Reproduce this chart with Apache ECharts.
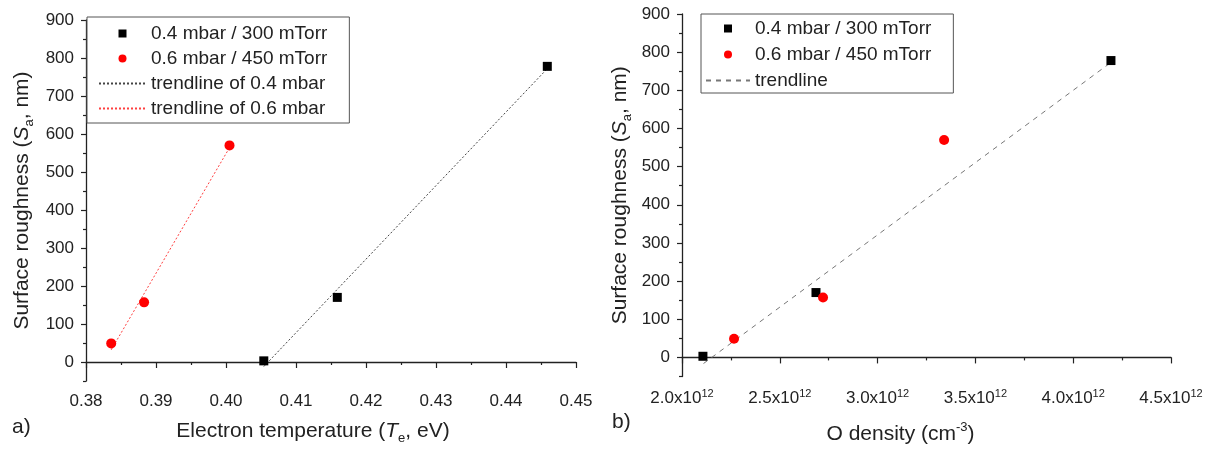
<!DOCTYPE html>
<html>
<head>
<meta charset="utf-8">
<script src="https://cdn.jsdelivr.net/npm/echarts@6/dist/echarts.min.js"></script>
<style>
html,body{margin:0;padding:0;background:#fff;}
#chart{width:1209px;height:450px;}
</style>
</head>
<body>
<div id="chart"></div>
<script>
// ---- data ----
const seriesNames = ['0.4 mbar / 300 mTorr', '0.6 mbar / 450 mTorr'];
const trendNames = ['trendline of 0.4 mbar', 'trendline of 0.6 mbar', 'trendline'];
const roughness04 = [3, 170, 778];          // Sa, nm
const roughness06 = [49, 157, 570];
const temp04 = [0.4054, 0.4159, 0.4459];    // Te, eV
const temp06 = [0.3836, 0.3883, 0.4005];
const dens04 = [2.107e12, 2.685e12, 4.193e12]; // O density, cm^-3
const dens06 = [2.266e12, 2.721e12, 3.34e12];
// trendline end points
const trend04 = [[0.4054, -12], [0.4459, 772]];
const trend06 = [[0.3836, 32], [0.4005, 564]];
const trendDens = [[2.11e12, -16], [4.19e12, 772]];
// tick values
const yMajorTicks = [0, 100, 200, 300, 400, 500, 600, 700, 800, 900];
const yMinorTicks = [-50, 50, 150, 250, 350, 450, 550, 650, 750, 850];

const FONT = "'Liberation Sans', Arial, sans-serif";
const TXT = '#222';
const TICK_FS = 17, TITLE_FS = 21, LEG_FS = 19;

function pairs(xs, ys) { return xs.map((x, i) => [x, ys[i]]); }

const axisLineStyle = { lineStyle: { color: '#222', width: 1.3 } };

const titleRich = {
  n: { fontSize: TITLE_FS, fontFamily: FONT, color: TXT, lineHeight: 28 },
  i: { fontSize: TITLE_FS, fontFamily: FONT, color: TXT, fontStyle: 'italic', lineHeight: 28 },
  s: { fontSize: 13, fontFamily: FONT, color: TXT, lineHeight: 13, verticalAlign: 'bottom' },
  p: { fontSize: 13, fontFamily: FONT, color: TXT, lineHeight: 13, verticalAlign: 'top' }
};

function xAxisBase(grid, min, max, interval, name, rich, fmt, gap, pad) {
  return {
    type: 'value', gridIndex: grid, min: min, max: max, interval: interval,
    axisLine: axisLineStyle,
    axisTick: { show: true, inside: false, length: 6, lineStyle: { color: '#222', width: 1.2 } },
    minorTick: { show: true, splitNumber: 2, length: 3, lineStyle: { color: '#222', width: 1.2 } },
    splitLine: { show: false },
    axisLabel: { color: TXT, fontSize: TICK_FS, fontFamily: FONT, margin: 12, formatter: fmt, rich: rich },
    name: name, nameLocation: 'middle', nameGap: gap,
    nameTextStyle: { color: TXT, fontSize: TITLE_FS, fontFamily: FONT, padding: pad, rich: titleRich }
  };
}

function yAxisMain(grid, gap) {
  return {
    type: 'value', gridIndex: grid, min: -50, max: 900,
    axisLine: axisLineStyle,
    axisTick: { show: true, inside: false, length: 5, customValues: yMajorTicks, lineStyle: { color: '#222', width: 1.2 } },
    splitLine: { show: false },
    axisLabel: { color: TXT, fontSize: TICK_FS, fontFamily: FONT, margin: 12, customValues: yMajorTicks },
    name: '{n|Surface roughness (}{i|S}{s|a}{n|, nm)}',
    nameLocation: 'middle', nameGap: gap, nameRotate: 90,
    nameTextStyle: { color: TXT, fontSize: TITLE_FS, fontFamily: FONT, rich: titleRich }
  };
}

function yAxisMinor(grid) {
  return {
    type: 'value', gridIndex: grid, min: -50, max: 900, position: 'left',
    axisLine: { show: false },
    axisTick: { show: true, inside: false, length: 3, customValues: yMinorTicks, lineStyle: { color: '#222', width: 1.2 } },
    axisLabel: { show: false },
    splitLine: { show: false }
  };
}

const supRich = {
  n: { fontSize: TICK_FS, fontFamily: FONT, color: TXT, lineHeight: 20 },
  p: { fontSize: 11, fontFamily: FONT, color: TXT, lineHeight: 11, verticalAlign: 'top' }
};

const squareIcon = 'path://M0,0L10,0L10,10L0,10Z';
const hiddenSymbol = { color: 'rgba(0,0,0,0)', opacity: 0, borderWidth: 0 };

const option = {
  animation: false,
  backgroundColor: '#fff',
  grid: [
    { left: 86, top: 20, width: 490, height: 362 },
    { left: 682, top: 14, width: 489, height: 364 }
  ],
  xAxis: [
    xAxisBase(0, 0.38, 0.45, 0.01, '{n|Electron temperature (}{i|T}{s|e}{n|, eV)}', null,
      v => v.toFixed(2), 36, [0, 36, 0, 0]),
    xAxisBase(1, 2.0e12, 4.5e12, 0.5e12, '{n|O density (cm}{p|-3}{n|)}', supRich,
      v => '{n|' + (v / 1e12).toFixed(1) + 'x10}{p|12}', 44, [0, 52, 0, 0])
  ],
  yAxis: [yAxisMain(0, 50), yAxisMinor(0), yAxisMain(1, 48), yAxisMinor(1)],
  legend: [
    {
      data: [
        { name: seriesNames[0], icon: squareIcon },
        { name: seriesNames[1] },
        { name: trendNames[0], itemStyle: hiddenSymbol },
        { name: trendNames[1], itemStyle: hiddenSymbol }
      ],
      left: 87, top: 17, orient: 'vertical', itemWidth: 47, itemHeight: 8, itemGap: 6,
      padding: [7, 22, 5, 11], borderColor: '#555', borderWidth: 1, backgroundColor: '#fff',
      textStyle: { fontSize: LEG_FS, color: TXT, fontFamily: FONT }, selectedMode: false
    },
    {
      data: [
        { name: seriesNames[0], icon: squareIcon },
        { name: seriesNames[1] },
        { name: trendNames[2], itemStyle: hiddenSymbol }
      ],
      left: 701, top: 14, orient: 'vertical', itemWidth: 44, itemHeight: 8, itemGap: 7,
      padding: [5, 22, 3, 4], borderColor: '#555', borderWidth: 1, backgroundColor: '#fff',
      textStyle: { fontSize: LEG_FS, color: TXT, fontFamily: FONT }, selectedMode: false
    }
  ],
  graphic: [
    { type: 'text', left: 12, top: 417, style: { text: 'a)', fontSize: TITLE_FS, fontFamily: FONT, fill: TXT } },
    { type: 'text', left: 612, top: 412, style: { text: 'b)', fontSize: TITLE_FS, fontFamily: FONT, fill: TXT } }
  ],
  series: [
    { name: trendNames[0], type: 'line', xAxisIndex: 0, yAxisIndex: 0, data: trend04,
      symbol: 'none', itemStyle: { color: '#444' }, lineStyle: { color: '#444', width: 1, type: [2, 2] }, z: 1 },
    { name: trendNames[1], type: 'line', xAxisIndex: 0, yAxisIndex: 0, data: trend06,
      symbol: 'none', itemStyle: { color: '#ff4040' }, lineStyle: { color: '#ff4040', width: 1, type: [2, 2] }, z: 1 },
    { name: seriesNames[0], type: 'scatter', xAxisIndex: 0, yAxisIndex: 0, data: pairs(temp04, roughness04),
      symbol: 'rect', symbolSize: 9, itemStyle: { color: '#000', opacity: 1 }, z: 3 },
    { name: seriesNames[1], type: 'scatter', xAxisIndex: 0, yAxisIndex: 0, data: pairs(temp06, roughness06),
      symbol: 'circle', symbolSize: 10, itemStyle: { color: '#ff0000', opacity: 1 }, z: 3 },
    { name: trendNames[2], type: 'line', xAxisIndex: 1, yAxisIndex: 2, data: trendDens,
      symbol: 'none', itemStyle: { color: '#777' }, lineStyle: { color: '#777', width: 1, type: [5, 5] }, z: 1 },
    { name: seriesNames[0], type: 'scatter', xAxisIndex: 1, yAxisIndex: 2, data: pairs(dens04, roughness04),
      symbol: 'rect', symbolSize: 9, itemStyle: { color: '#000', opacity: 1 }, z: 3 },
    { name: seriesNames[1], type: 'scatter', xAxisIndex: 1, yAxisIndex: 2, data: pairs(dens06, roughness06),
      symbol: 'circle', symbolSize: 10, itemStyle: { color: '#ff0000', opacity: 1 }, z: 3 }
  ]
};

const chart = echarts.init(document.getElementById('chart'), null, { renderer: 'canvas' });
chart.setOption(option);
</script>
</body>
</html>
